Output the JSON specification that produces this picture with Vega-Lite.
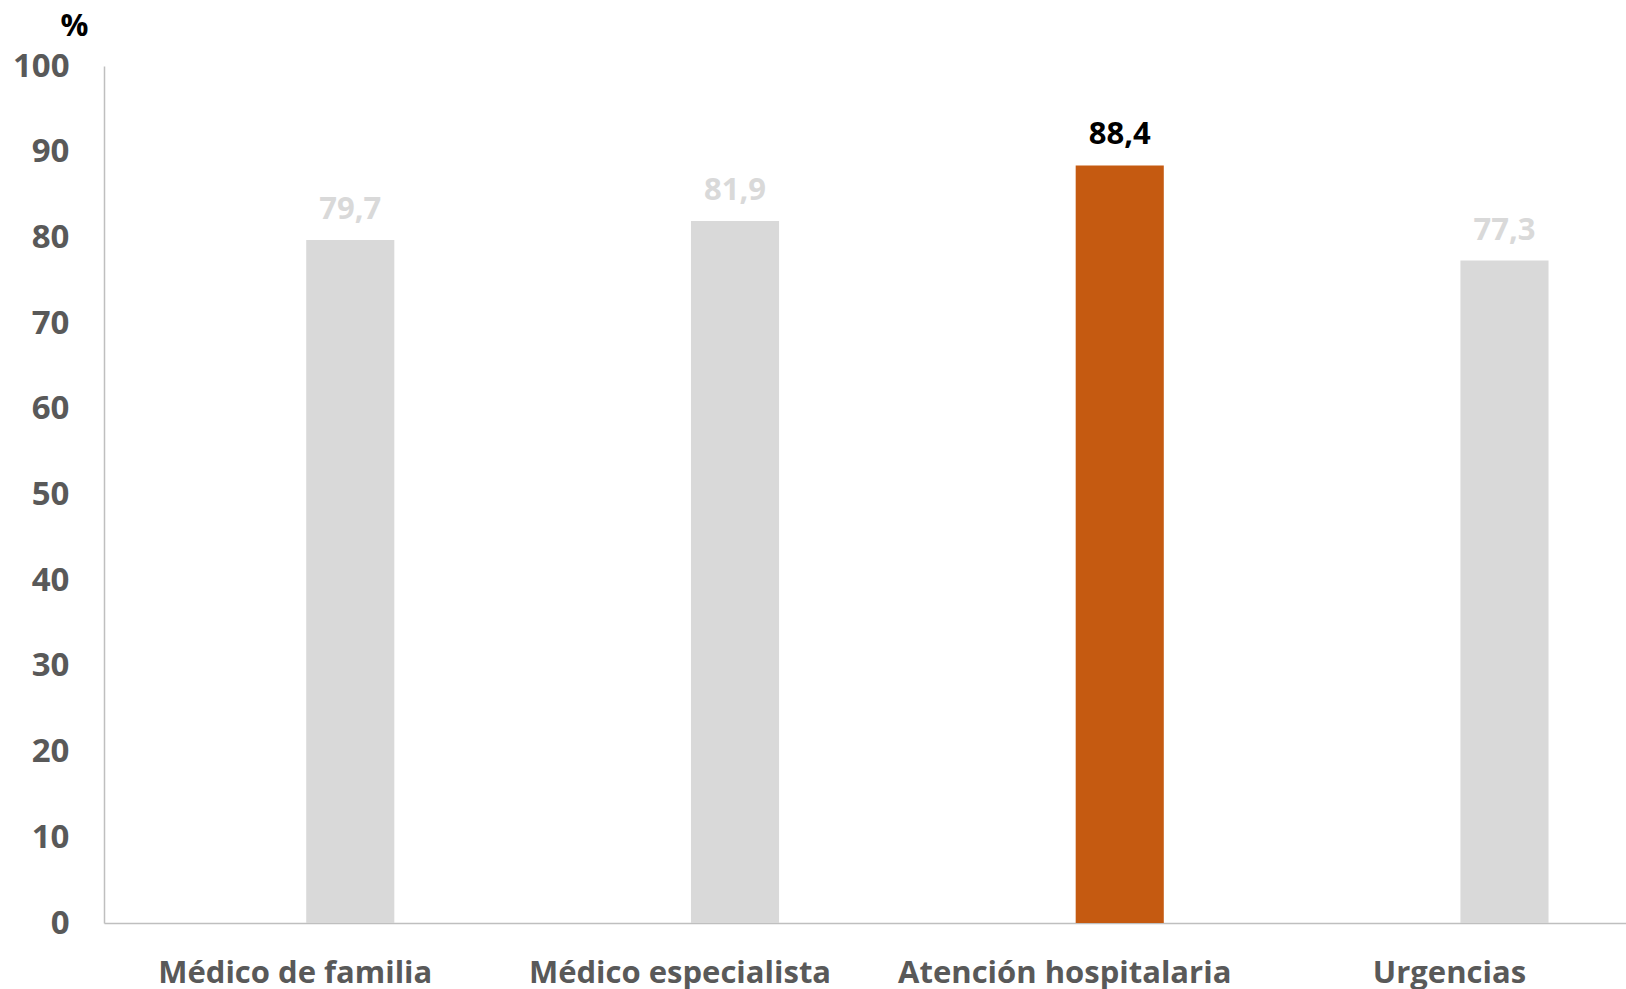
{
  "$schema": "https://vega.github.io/schema/vega-lite/v6.json",
  "autosize": {"type": "none"},
  "padding": {"left": 104, "top": 66, "right": 0, "bottom": 66},
  "width": 1522,
  "height": 857,
  "background": "white",
  "config": {
    "view": {"stroke": null},
    "locale": {"number": {"decimal": ",", "thousands": ".", "grouping": [3], "currency": ["", " €"]}},
    "font": "Open Sans"
  },
  "data": {
    "values": [
      {"categoria": "Médico de familia", "valor": 79.7, "destacado": "no"},
      {"categoria": "Médico especialista", "valor": 81.9, "destacado": "no"},
      {"categoria": "Atención hospitalaria", "valor": 88.4, "destacado": "si"},
      {"categoria": "Urgencias", "valor": 77.3, "destacado": "no"}
    ]
  },
  "encoding": {
    "x": {
      "field": "categoria",
      "type": "nominal",
      "sort": null,
      "scale": {"paddingInner": 0.771, "paddingOuter": 0.3635, "align": 0.723},
      "axis": {
        "title": null,
        "labelAngle": 0,
        "labelOffset": -55,
        "labelLimit": 1000,
        "labelFont": "Open Sans",
        "labelFontWeight": "bold",
        "labelFontSize": 31,
        "labelColor": "#595959",
        "labelPadding": 35,
        "ticks": false,
        "domainColor": "#BFBFBF",
        "domainWidth": 1.5,
        "grid": false
      }
    },
    "y": {
      "field": "valor",
      "type": "quantitative",
      "scale": {"domain": [0, 100]},
      "axis": {
        "title": "%",
        "titleAngle": 0,
        "titleX": -30,
        "titleY": -40,
        "titleAlign": "center",
        "titleBaseline": "middle",
        "titleFont": "Open Sans",
        "titleFontSize": 31,
        "titleFontWeight": "bold",
        "titleColor": "#000000",
        "values": [0, 10, 20, 30, 40, 50, 60, 70, 80, 90, 100],
        "labelFont": "Open Sans",
        "labelFontWeight": "bold",
        "labelFontSize": 33,
        "labelColor": "#595959",
        "labelPadding": 35,
        "ticks": false,
        "grid": false,
        "domainColor": "#BFBFBF",
        "domainWidth": 1.5
      }
    }
  },
  "layer": [
    {
      "mark": {"type": "bar"},
      "encoding": {
        "color": {
          "field": "destacado",
          "type": "nominal",
          "scale": {"domain": ["no", "si"], "range": ["#D9D9D9", "#C55A11"]},
          "legend": null
        }
      }
    },
    {
      "mark": {"type": "text", "baseline": "bottom", "dy": -14, "fontSize": 31, "fontWeight": "bold", "font": "Open Sans"},
      "encoding": {
        "text": {"field": "valor", "type": "quantitative", "format": ".1f"},
        "color": {
          "field": "destacado",
          "type": "nominal",
          "scale": {"domain": ["no", "si"], "range": ["#D9D9D9", "#000000"]},
          "legend": null
        }
      }
    }
  ],
  "resolve": {"scale": {"color": "independent"}}
}
